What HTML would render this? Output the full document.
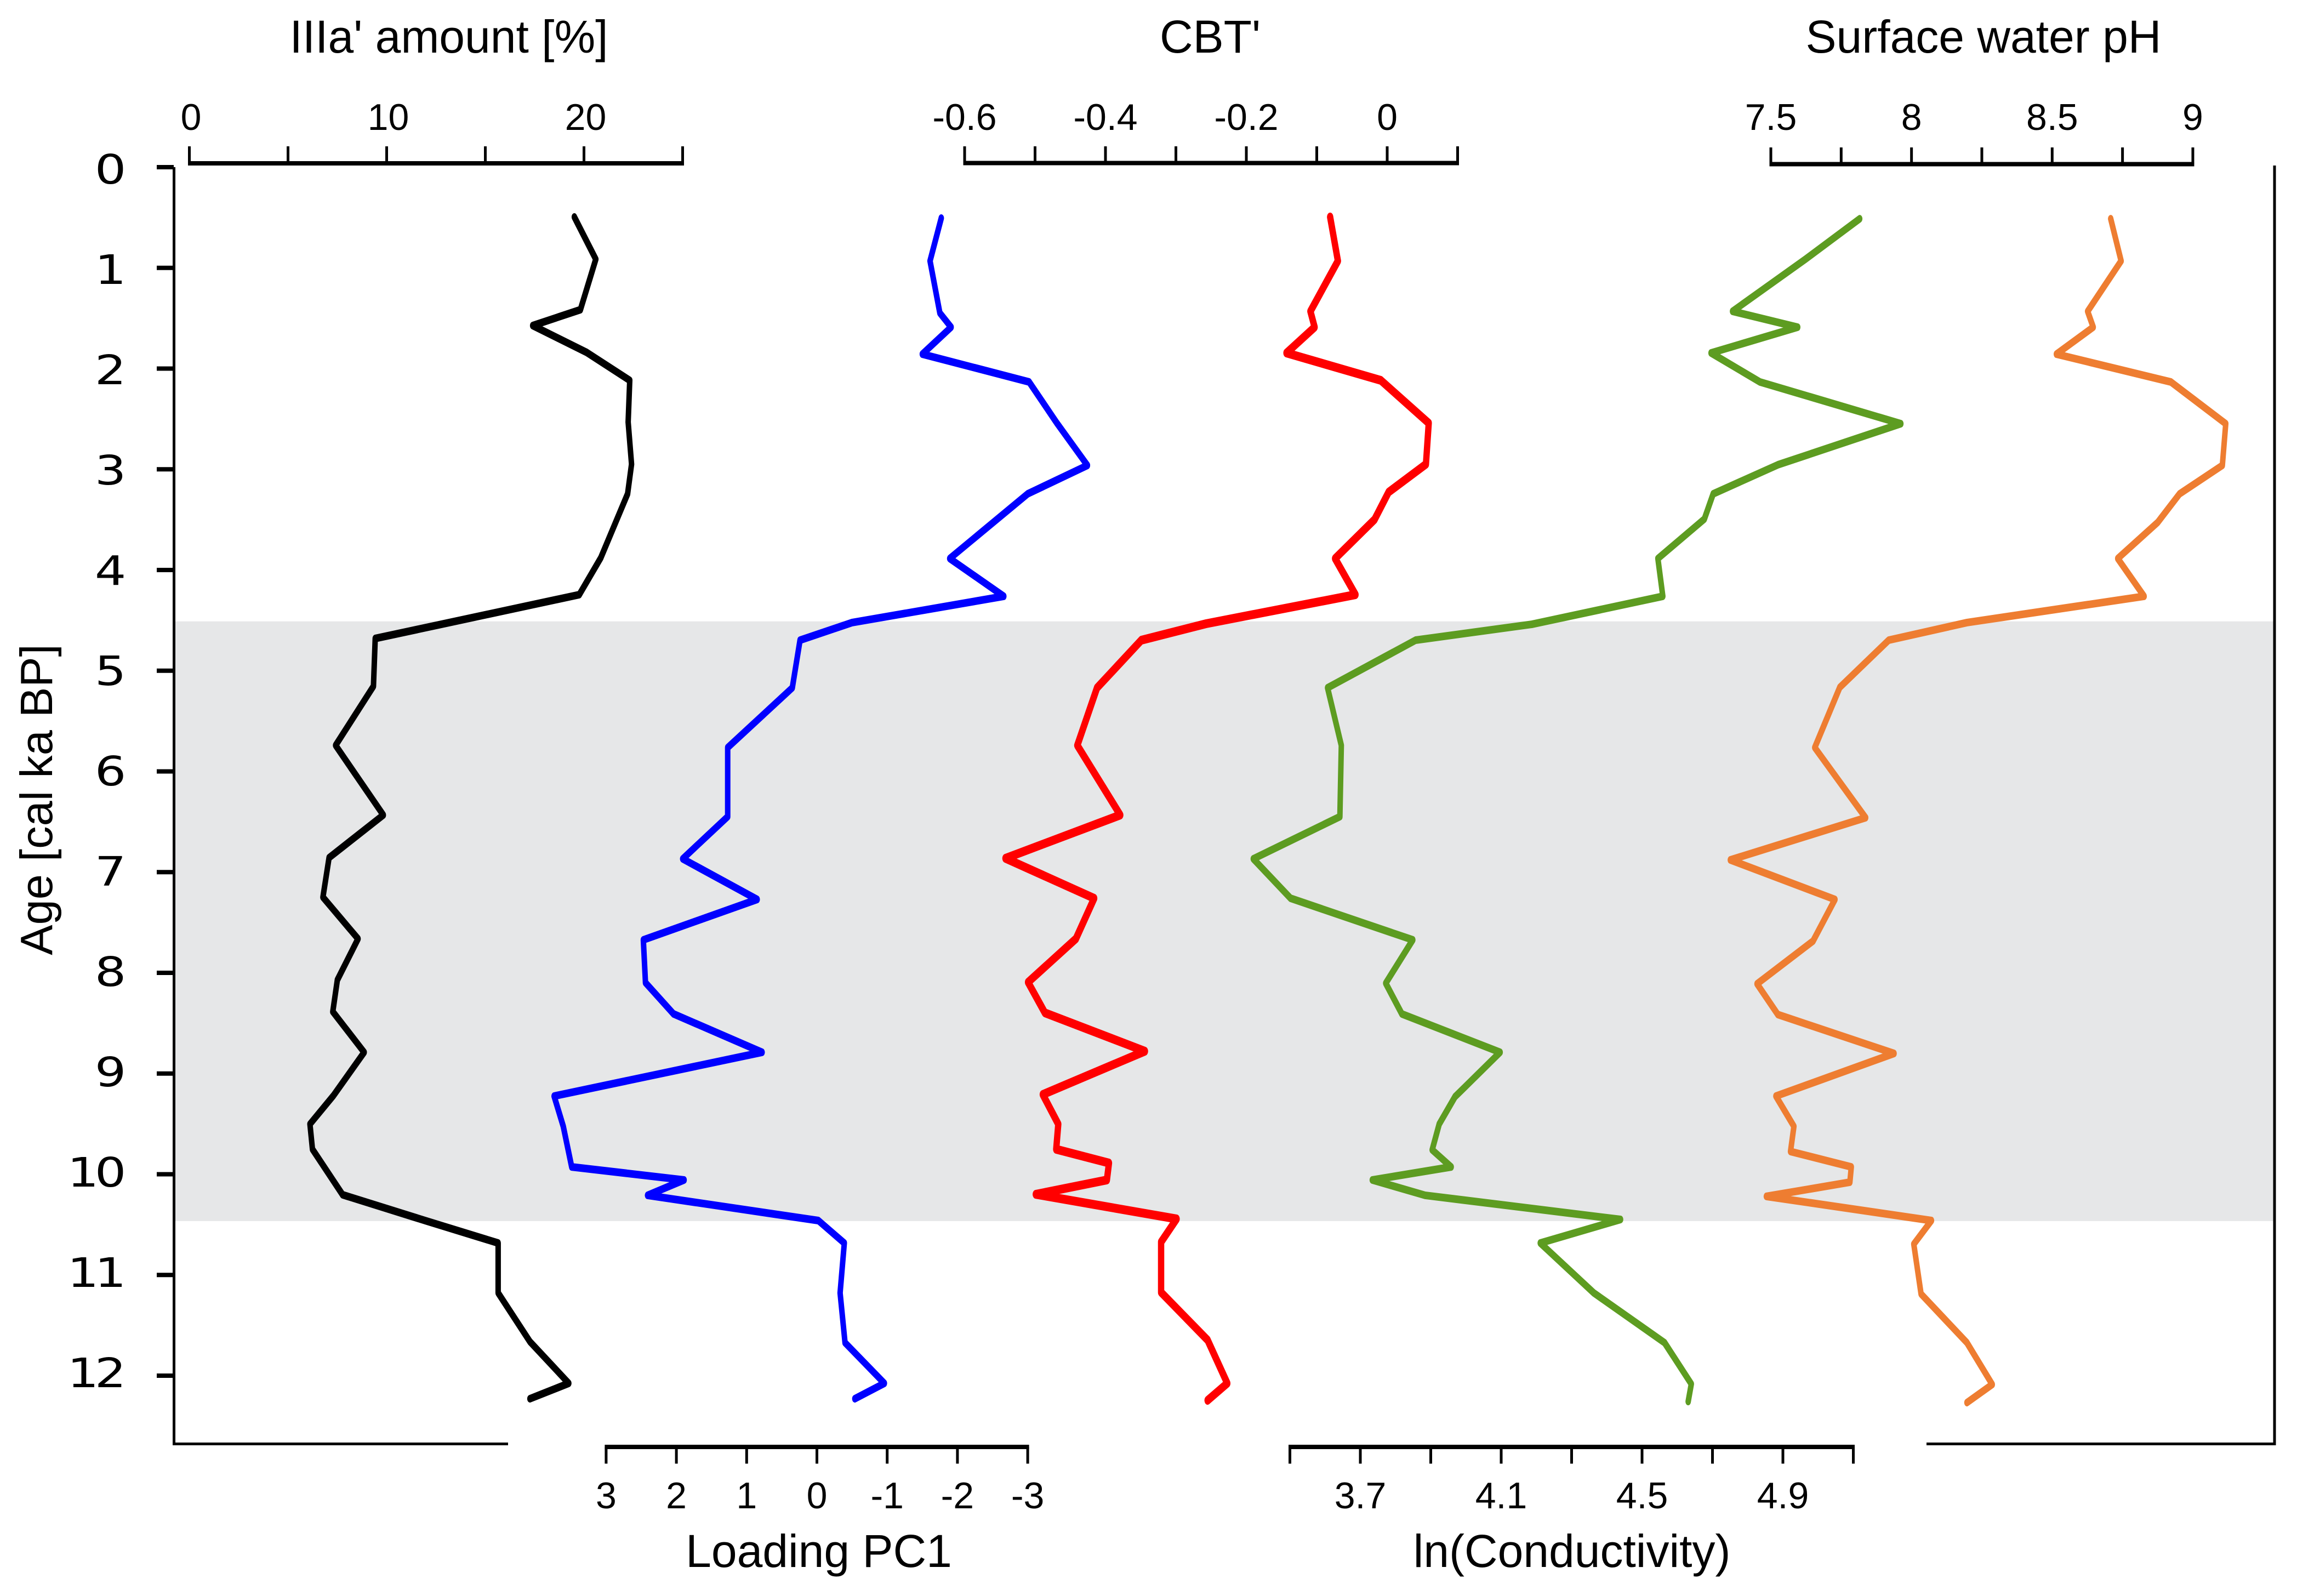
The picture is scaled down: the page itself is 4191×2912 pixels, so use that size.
<!DOCTYPE html>
<html lang="en">
<head>
<meta charset="utf-8">
<title>Multi-proxy record against age</title>
<style>
html,body{margin:0;padding:0;background:#fff;}
svg{display:block;}
text{font-family:"Liberation Sans",Arial,sans-serif;fill:#000;}
</style>
</head>
<body>
<svg id="chart" xmlns="http://www.w3.org/2000/svg" width="4191" height="2912" viewBox="0 0 4191 2912">
  <rect x="0" y="0" width="4191" height="2912" fill="#ffffff"/>
  <g id="band"></g>
  <g id="frame"></g>
  <g id="axes"></g>
  <g id="series" transform="scale(1,1.4)"></g>
  <text x="819" y="96" font-size="84" text-anchor="middle">IIIa' amount [%]</text>
  <text x="2208" y="96" font-size="84" text-anchor="middle">CBT'</text>
  <text x="3619" y="96" font-size="84" text-anchor="middle">Surface water pH</text>
  <text x="1494" y="2859" font-size="84" text-anchor="middle">Loading PC1</text>
  <text x="2868" y="2859" font-size="84" text-anchor="middle">ln(Conductivity)</text>
  <text transform="translate(95,1459) rotate(-90)" font-size="83" text-anchor="middle">Age [cal ka BP]</text>
</svg>
<script>
// ---------- data ----------
const ageTicks = [0,1,2,3,4,5,6,7,8,9,10,11,12];
const bandAges = [4.51,10.465];

const iiiaTicks = [0,5,10,15,20,25];
const iiiaLabels = [0,10,20];
const pc1Ticks = [3,2,1,0,-1,-2,-3];
const pc1Labels = [3,2,1,0,-1,-2,-3];
const cbtTicks = [-0.6,-0.5,-0.4,-0.3,-0.2,-0.1,0,0.1];
const cbtLabels = [-0.6,-0.4,-0.2,0];
const condTicks = [3.5,3.7,3.9,4.1,4.3,4.5,4.7,4.9,5.1];
const condLabels = [3.7,4.1,4.5,4.9];
const phTicks = [7.5,7.75,8,8.25,8.5,8.75,9];
const phLabels = [7.5,8,8.5,9];

const iiiaAges = [0.495,0.914,1.415,1.573,1.839,2.117,2.531,2.950,3.244,3.880,4.245,4.680,5.154,5.741,6.433,6.857,7.249,7.662,8.071,8.386,8.789,9.219,9.502,9.752,10.204,10.465,10.683,11.178,11.662,12.076,12.229];
const iiiaValues = [19.51,20.60,19.82,17.40,20.13,22.32,22.24,22.41,22.21,20.85,19.76,9.42,9.33,7.41,9.83,7.08,6.77,8.55,7.50,7.27,8.86,7.30,6.11,6.24,7.77,12.03,15.65,15.65,17.26,19.23,17.26];

const pc1Ages = [0.506,0.931,1.448,1.589,1.856,2.133,2.536,2.961,3.244,3.886,4.261,4.522,4.697,5.170,5.763,6.449,6.868,7.271,7.673,8.098,8.408,8.789,9.224,9.524,9.927,10.057,10.209,10.460,10.683,11.178,11.673,12.076,12.229];
const pc1Values = [-1.77,-1.61,-1.75,-1.91,-1.50,-3.02,-3.41,-3.85,-3.00,-1.89,-2.66,-0.50,0.24,0.35,1.27,1.27,1.91,0.85,2.47,2.44,2.04,0.78,3.74,3.61,3.49,1.89,2.41,-0.02,-0.39,-0.33,-0.40,-0.96,-0.54];

const cbtAges = [0.495,0.931,1.431,1.589,1.845,2.117,2.541,2.950,3.227,3.499,3.886,4.245,4.533,4.697,5.170,5.741,6.433,6.863,7.260,7.662,8.093,8.397,8.778,9.208,9.502,9.752,9.888,10.057,10.199,10.444,10.672,11.173,11.646,12.076,12.245];
const cbtValues = [-0.081,-0.070,-0.109,-0.103,-0.143,-0.009,0.059,0.055,0.002,-0.018,-0.074,-0.045,-0.257,-0.349,-0.412,-0.440,-0.379,-0.542,-0.416,-0.442,-0.510,-0.486,-0.344,-0.489,-0.467,-0.470,-0.395,-0.398,-0.499,-0.299,-0.321,-0.321,-0.255,-0.227,-0.255];

const condAges = [0.512,0.914,1.431,1.589,1.845,2.133,2.547,2.955,3.244,3.494,3.886,4.261,4.539,4.697,5.170,5.741,6.449,6.868,7.260,7.673,8.103,8.408,8.789,9.230,9.502,9.758,9.927,10.057,10.209,10.449,10.683,11.178,11.673,12.082,12.256];
const condValues = [5.118,4.964,4.757,4.942,4.696,4.835,5.235,4.886,4.702,4.677,4.545,4.559,4.187,3.857,3.607,3.646,3.642,3.396,3.502,3.849,3.772,3.818,4.097,3.969,3.924,3.904,3.958,3.734,3.884,4.439,4.211,4.363,4.564,4.640,4.631];

const phAges = [0.512,0.931,1.431,1.589,1.856,2.133,2.547,2.961,3.244,3.527,3.886,4.261,4.522,4.697,5.165,5.763,6.460,6.879,7.271,7.684,8.109,8.414,8.800,9.224,9.524,9.774,9.927,10.079,10.220,10.460,10.694,11.189,11.673,12.087,12.267];
const phValues = [8.708,8.745,8.626,8.646,8.515,8.922,9.117,9.105,8.953,8.875,8.733,8.827,8.197,7.919,7.745,7.656,7.837,7.356,7.728,7.650,7.451,7.525,7.938,7.518,7.582,7.570,7.786,7.781,7.484,8.071,8.008,8.034,8.197,8.287,8.197];

// ---------- axis functions ----------
const NS = 'http://www.w3.org/2000/svg';
const strokeStretch = 1.4;
function yAge(a){ return 305 + 183.75 * a; }
function xIiia(v){ return 345.5 + 36 * v; }
function xPc1(v){ return 1490.5 - 128.2 * v; }
function xCbt(v){ return 2531 + 1285 * v; }
function xCond(v){ return 2482 + 642.5 * (v - 3.7); }
function xPh(v){ return 3231 + 513.3 * (v - 7.5); }

function make(tag, parent){
  const el = document.createElementNS(NS, tag);
  parent.appendChild(el);
  return el;
}
function line(parent, x1, y1, x2, y2, w){
  const el = make('line', parent);
  el.setAttribute('x1', x1);
  el.setAttribute('y1', y1);
  el.setAttribute('x2', x2);
  el.setAttribute('y2', y2);
  el.setAttribute('stroke', '#000');
  el.setAttribute('stroke-width', w);
  return el;
}

// shaded band
const bandRect = make('rect', document.getElementById('band'));


bandRect.setAttribute('x', 318);
bandRect.setAttribute('y', yAge(bandAges[0]));
bandRect.setAttribute('width', 3831);
bandRect.setAttribute('height', yAge(bandAges[1]) - yAge(bandAges[0]));
bandRect.setAttribute('fill', '#E6E7E8');

// frame and age axis
const frame = document.getElementById('frame');
const leftFrame = make('path', frame);


leftFrame.setAttribute('d', 'M317.5 ' + yAge(0) + ' V2634.5 H927');
leftFrame.setAttribute('fill', 'none');
leftFrame.setAttribute('stroke', '#000');
leftFrame.setAttribute('stroke-width', 5);
const rightFrame = make('path', frame);


rightFrame.setAttribute('d', 'M3515 2634.5 H4150 V302');
rightFrame.setAttribute('fill', 'none');
rightFrame.setAttribute('stroke', '#000');
rightFrame.setAttribute('stroke-width', 5);

ageTicks.forEach(function(a){
  const t = line(frame, 286, yAge(a), 317, yAge(a), 8);
  
  
  const lab = make('text', frame);
  
  
  lab.setAttribute('transform', 'translate(223,' + (335 + 183 * a) + ') scale(1.22,1)');
  lab.setAttribute('text-anchor', 'end');
  lab.setAttribute('font-size', 74);
  lab.setAttribute('letter-spacing', -6);
  lab.style.fontFamily = '"DejaVu Sans",sans-serif';
  lab.textContent = a;
});

// horizontal proxy axes
const axesGroup = document.getElementById('axes');
function drawAxis(name, scale, ticks, labels, baseY, tickEndY, labelY, labelShift){
  const g = make('g', axesGroup);
  
  
  const base = line(g, scale(ticks[0]) - 2.5, baseY, scale(ticks[ticks.length - 1]) + 2.5, baseY, 8);
  
  
  ticks.forEach(function(v){
    const t = line(g, scale(v), baseY, scale(v), tickEndY, 5);
    
    
  });
  labels.forEach(function(v){
    const lab = make('text', g);
    
    
    lab.setAttribute('x', scale(v) + labelShift);
    lab.setAttribute('y', labelY);
    lab.setAttribute('font-size', 68);
    lab.setAttribute('text-anchor', 'middle');
    lab.textContent = v;
  });
}
drawAxis('iiia-axis', xIiia, iiiaTicks, iiiaLabels, 298, 267, 237, 3);
drawAxis('cbt-axis', xCbt, cbtTicks, cbtLabels, 297.5, 267, 237, 0);
drawAxis('ph-axis', xPh, phTicks, phLabels, 299.5, 269, 237, 0);
drawAxis('pc1-axis', xPc1, pc1Ticks, pc1Labels, 2640, 2670.5, 2752, 0);
drawAxis('conductivity-axis', xCond, condTicks, condLabels, 2640, 2670.5, 2752, 0);

// series lines (the group stretches strokes vertically, as in the source figure)
const seriesGroup = document.getElementById('series');
function drawSeries(name, scale, ages, values, color, width){
  const p = make('polyline', seriesGroup);
  
  
  p.setAttribute('points', values.map(function(v, i){
    return scale(v).toFixed(1) + ',' + (yAge(ages[i]) / strokeStretch).toFixed(1);
  }).join(' '));
  p.setAttribute('fill', 'none');
  p.setAttribute('stroke', color);
  p.setAttribute('stroke-width', width);
  p.setAttribute('stroke-linejoin', 'round');
  p.setAttribute('stroke-linecap', 'round');
}
drawSeries('iiia-amount-line', xIiia, iiiaAges, iiiaValues, '#000000', 10);
drawSeries('loading-pc1-line', xPc1, pc1Ages, pc1Values, '#0000FF', 10);
drawSeries('cbt-line', xCbt, cbtAges, cbtValues, '#FF0000', 11.5);
drawSeries('conductivity-line', xCond, condAges, condValues, '#5D9C21', 10);
drawSeries('surface-ph-line', xPh, phAges, phValues, '#EE7D31', 10);
</script>
</body>
</html>
